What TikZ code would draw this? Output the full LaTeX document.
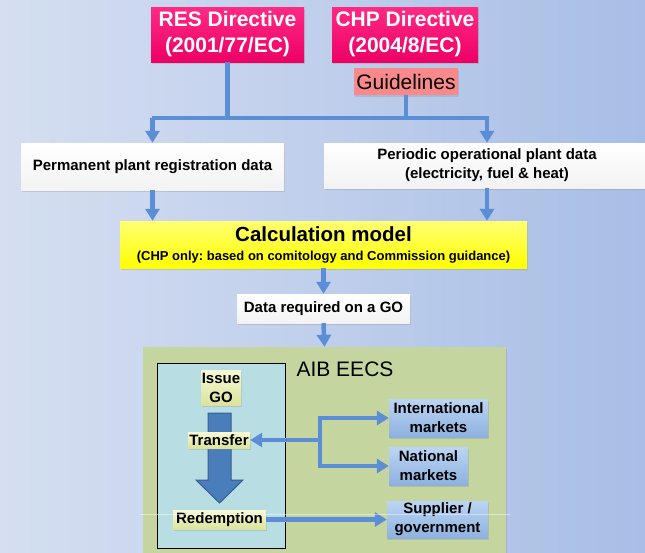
\documentclass[tikz,border=0pt]{standalone}
\usepackage{fontspec}
\setmainfont{Liberation Sans}
\usetikzlibrary{arrows.meta,shadows}
\frenchspacing

\definecolor{bgleft}{HTML}{D6DFF1}
\definecolor{bgright}{HTML}{A8BEE6}
\definecolor{flowblue}{HTML}{5B8ED6}
\definecolor{magtop}{HTML}{FF2A84}
\definecolor{magbot}{HTML}{EC0066}
\definecolor{salmon}{HTML}{F9898A}
\definecolor{aibgreen}{HTML}{C4D59F}
\definecolor{eecsblue}{HTML}{B8DEE3}
\definecolor{paletop}{HTML}{F7F9D6}
\definecolor{palebot}{HTML}{DCE39C}
\definecolor{mkttop}{HTML}{BCD5F3}
\definecolor{mktbot}{HTML}{8DB1DF}
\definecolor{goarrow}{HTML}{4A7EBB}
\definecolor{goedge}{HTML}{355F93}

\begin{document}
\begin{tikzpicture}[x=1pt,y=-1pt,>={Triangle[length=12pt,width=14pt]},
	flow/.style={draw=flowblue,line width=4.5pt},
	box/.style={inner sep=0pt,align=center,drop shadow={opacity=0.25,shadow xshift=1pt,shadow yshift=-1.5pt}}]
	\tikzstyle{directive}=[box,top color=magtop,bottom color=magbot,text=white,font=\bfseries\fontsize{21}{26}\selectfont]
	\tikzstyle{datum}=[box,top color=white,bottom color=black!5,font=\bfseries\fontsize{15}{19}\selectfont]
	\tikzstyle{gostep}=[box,top color=paletop,bottom color=palebot,font=\bfseries\fontsize{15}{19}\selectfont]
	\tikzstyle{market}=[box,top color=mkttop,bottom color=mktbot,font=\bfseries\fontsize{15}{19}\selectfont]

	% background
	\fill[left color=bgleft,right color=bgright] (0,0) rectangle (645,552);
	\useasboundingbox (0,0) rectangle (645,552);

	% directives
	\node[directive,minimum width=153pt,minimum height=55pt] (res) at (227.5,34.5) {RES Directive\\(2001/77/EC)};
	\node[directive,minimum width=146pt,minimum height=55pt] (chp) at (405,34.5) {CHP Directive\\(2004/8/EC)};
	\node[box,fill=salmon,minimum width=104pt,minimum height=27pt,font=\fontsize{21}{26}\selectfont] (guide) at (406,81.5) {Guidelines};

	% plant data
	\node[datum,minimum width=263pt,minimum height=47pt] (perm) at (152.5,166.5) {Permanent plant registration data};
	\node[datum,minimum width=326pt,minimum height=45pt] (periodic) at (487,165.5) {Periodic operational plant data\\(electricity, fuel \& heat)};
	\node[box,top color=yellow!55!white,bottom color=yellow,minimum width=407pt,minimum height=47pt,font=\bfseries\fontsize{20.5}{19}\selectfont] (calc) at (323.5,244.5)
		{Calculation model\\{\fontsize{13}{19}\selectfont (CHP only: based on comitology and Commission guidance)}};
	\node[datum,minimum width=173pt,minimum height=29pt] (data) at (323.5,308.5) {Data required on a GO};

	% AIB EECS
	\node[box,fill=aibgreen,minimum width=363pt,minimum height=213pt] (aib) at (324.5,453.5) {};
	\node[font=\fontsize{21}{24}\selectfont,inner sep=0pt] (aiblabel) at (345,369) {AIB EECS};
	\node[fill=eecsblue,draw=black,line width=1pt,minimum width=128pt,minimum height=185pt,inner sep=0pt] (eecs) at (221,455.5) {};
	\fill[goarrow,draw=goedge,line width=1pt] (208,413) -- (231,413) -- (231,480) -- (243,480) -- (219.5,503) -- (196,480) -- (208,480) -- cycle;

	\node[gostep,minimum width=40pt,minimum height=35pt] (issue) at (221,387.5) {Issue\\GO};
	\node[gostep,minimum width=62pt,minimum height=16pt] (transfer) at (219,440) {Transfer};
	\node[gostep,minimum width=93pt,minimum height=19pt] (redeem) at (219.5,519.5) {Redemption};

	\node[market,minimum width=99pt,minimum height=38pt] (intl) at (438.5,418) {International\\markets};
	\node[market,minimum width=79pt,minimum height=38pt] (national) at (428.5,466) {National\\markets};
	\node[market,minimum width=101pt,minimum height=37pt] (supplier) at (437.5,519.5) {Supplier /\\government};

	% connectors
	\coordinate (bl) at (152,118);
	\coordinate (sp) at (320,440);
	\draw[flow] (res.south) -- (res.south |- bl);
	\draw[flow] (guide.south) -- (guide.south |- bl);
	\draw[flow,<->] (perm.north) |- (bl) -| (periodic.north);
	\draw[flow,->] (perm.south) -- (perm.south |- calc.north);
	\draw[flow,->] (periodic.south) -- (periodic.south |- calc.north);
	\draw[flow,->] (calc.south) -- (data.north);
	\draw[flow,->] (data.south) -- (aib.north);
	\draw[flow,->] (sp) -- (transfer.east);
	\draw[flow,->] (sp) |- (intl.west);
	\draw[flow,->] (sp) |- (national.west);
	\draw[flow,->] (redeem.east) -- (supplier.west);

	\draw[white,opacity=0.45,line width=0.5pt] (140,514) -- (510,514);
\end{tikzpicture}
\end{document}
